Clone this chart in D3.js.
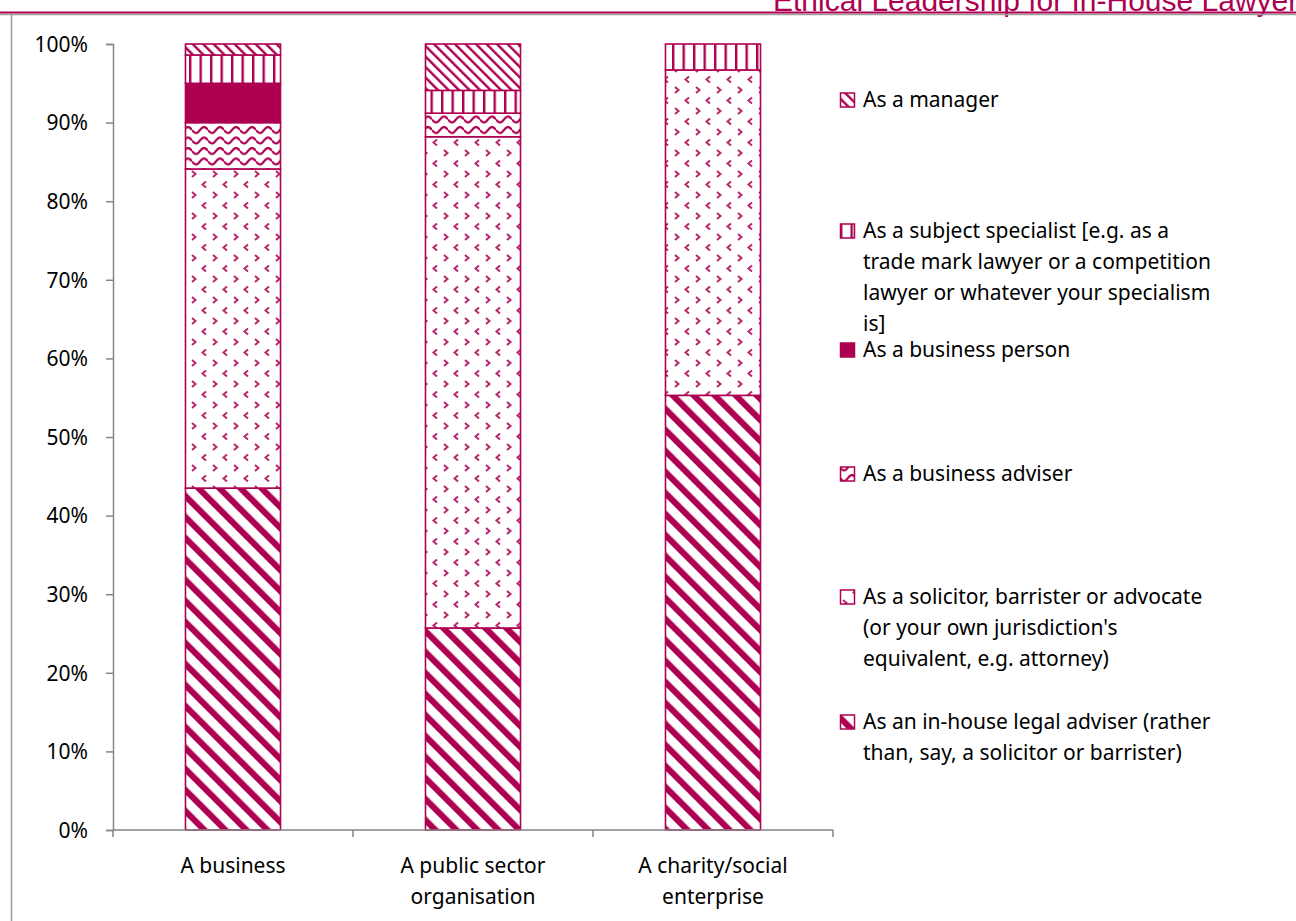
<!DOCTYPE html>
<html>
<head>
<meta charset="utf-8">
<script src="https://cdn.jsdelivr.net/npm/d3@7"></script>
<style>
  body { margin: 0; background: #fff; }
  svg { display: block; }
  text { font-family: "Noto Sans", sans-serif; fill: #000; }
</style>
</head>
<body>
<svg id="chart" width="1296" height="921"></svg>
<script>
// categories and series (percent of respondents)
var categories = ["A business", "A public sector organisation", "A charity/social enterprise"];
var categoryLines = [["A business"], ["A public sector", "organisation"], ["A charity/social", "enterprise"]];

var inHouse    = [43.5, 25.7, 55.3];
var solicitor  = [40.6, 62.5, 41.4];
var adviser    = [5.9, 3.0, 0];
var person     = [5.0, 0, 0];
var specialist = [3.6, 2.9, 3.3];
var manager    = [1.4, 5.9, 0];

var seriesKeys = ["inHouse", "solicitor", "adviser", "person", "specialist", "manager"];
var seriesLabels = {
  inHouse: ["As an in-house legal adviser (rather", "than, say, a solicitor or barrister)"],
  solicitor: ["As a solicitor, barrister or advocate", "(or your own jurisdiction's", "equivalent, e.g. attorney)"],
  adviser: ["As a business adviser"],
  person: ["As a business person"],
  specialist: ["As a subject specialist [e.g. as a", "trade mark lawyer or a competition", "lawyer or whatever your specialism", "is]"],
  manager: ["As a manager"]
};
var yTicks = [0, 10, 20, 30, 40, 50, 60, 70, 80, 90, 100];

var crimson = "#ae0050";

var rows = categories.map(function (c, i) {
  return { cat: c, inHouse: inHouse[i], solicitor: solicitor[i], adviser: adviser[i],
           person: person[i], specialist: specialist[i], manager: manager[i] };
});

var svg = d3.select("#chart");
var defs = svg.append("defs");

// patterns, all aligned to page
function pat(id, w, h, rot) {
  var p = defs.append("pattern")
    .attr("id", id)
    .attr("patternUnits", "userSpaceOnUse")
    .attr("width", w).attr("height", h);
  if (rot) p.attr("patternTransform", "rotate(" + rot + ")");
  p.append("rect").attr("width", w).attr("height", h).attr("fill", "#fff");
  return p;
}

// wide downward diagonal
pat("p-inHouse", 14.85, 14.85, -45)
  .append("rect").attr("x", 0).attr("width", 6.2).attr("height", 14.85).attr("fill", crimson);

// divot
var dv = pat("p-solicitor", 21, 21);
dv.append("path").attr("d", "M3,3 L6.5,6 L3,9").attr("fill", "none")
  .attr("stroke", crimson).attr("stroke-width", 2).attr("opacity", 0.85);
dv.append("path").attr("d", "M17,13.5 L13.5,16.5 L17,19.5").attr("fill", "none")
  .attr("stroke", crimson).attr("stroke-width", 2).attr("opacity", 0.85);

// wave
pat("p-adviser", 16, 10.5)
  .append("path").attr("d", "M0,4 Q4,10 8,4 T16,4").attr("fill", "none")
  .attr("stroke", crimson).attr("stroke-width", 2.2);

// solid
pat("p-person", 4, 4).select("rect").attr("fill", crimson);

// vertical lines
pat("p-specialist", 10.5, 10)
  .append("rect").attr("x", 0).attr("width", 2.4).attr("height", 10).attr("fill", crimson);

// light downward diagonal
pat("p-manager", 7.42, 7.42, -45)
  .append("rect").attr("x", 0).attr("width", 2.4).attr("height", 7.42).attr("fill", crimson);

// header
svg.append("text")
  .attr("x", 773).attr("y", 11)
  .style("font-family", "'Liberation Sans', Arial, sans-serif")
  .style("font-size", "30px")
  .style("fill", crimson)
  .text("Ethical Leadership for In-House Lawyers");
svg.append("line").attr("x1", 0).attr("x2", 1296).attr("y1", 14.5).attr("y2", 14.5)
  .attr("stroke", "#a0a0a0").attr("stroke-width", 1.5);
svg.append("line").attr("x1", 0).attr("x2", 1296).attr("y1", 12.5).attr("y2", 12.5)
  .attr("stroke", crimson).attr("stroke-width", 2);
svg.append("line").attr("x1", 11.5).attr("x2", 11.5).attr("y1", 13.5).attr("y2", 921)
  .attr("stroke", "#9a9a9a").attr("stroke-width", 1.5);

// scales
var x = d3.scaleBand().domain(categories).range([113, 833]).padding(0);
var y = d3.scaleLinear().domain([0, 100]).range([830, 44]);
var barW = x.bandwidth() * 0.396;

var stacked = d3.stack().keys(seriesKeys)(rows);

svg.append("g").selectAll("g")
  .data(stacked)
  .enter()
  .append("g")
  .attr("fill", function (d) { return "url(#p-" + d.key + ")"; })
  .selectAll("rect")
  .data(function (d) { return d.filter(function (s) { return s[1] - s[0] > 0; }); })
  .enter()
  .append("rect")
  .attr("x", function (d) { return x(d.data.cat) + (x.bandwidth() - barW) / 2; })
  .attr("y", function (d) { return y(d[1]); })
  .attr("width", barW)
  .attr("height", function (d) { return y(d[0]) - y(d[1]); })
  .attr("stroke", crimson)
  .attr("stroke-width", 1.6);

// y axis
var yAxis = svg.append("g")
  .attr("transform", "translate(113,0)")
  .call(d3.axisLeft(y).tickValues(yTicks).tickFormat(function (d) { return d + "%"; })
    .tickSize(7).tickPadding(18));
yAxis.select(".domain").attr("stroke", "#868686").attr("stroke-width", 1.5);
yAxis.selectAll(".tick line").attr("stroke", "#868686").attr("stroke-width", 1.5);
yAxis.selectAll(".tick text").style("font-size", "21px").attr("dy", "0.35em");

// x axis
var xg = svg.append("g");
xg.append("line").attr("x1", 113).attr("x2", 833).attr("y1", 830).attr("y2", 830)
  .attr("stroke", "#868686").attr("stroke-width", 1.5);
xg.selectAll(".xt")
  .data(categories.concat([null]))
  .enter()
  .append("line")
  .attr("x1", function (d, i) { return i < categories.length ? x(d) : x(categories[i - 1]) + x.bandwidth(); })
  .attr("x2", function (d, i) { return i < categories.length ? x(d) : x(categories[i - 1]) + x.bandwidth(); })
  .attr("y1", 830).attr("y2", 837)
  .attr("stroke", "#868686").attr("stroke-width", 1.5);
xg.selectAll(".xl")
  .data(categories)
  .enter()
  .append("text")
  .attr("text-anchor", "middle")
  .style("font-size", "21px")
  .each(function (d, i) {
    var t = d3.select(this);
    categoryLines[i].forEach(function (ln, k) {
      t.append("tspan").attr("x", x(d) + x.bandwidth() / 2).attr("y", 873 + k * 31).text(ln);
    });
  });

// legend (top-down: reverse of stack)
var legendY = { manager: 100, specialist: 231, person: 350, adviser: 474, solicitor: 597, inHouse: 722 };
var lg = svg.append("g").selectAll("g")
  .data(seriesKeys.slice().reverse())
  .enter()
  .append("g")
  .attr("transform", function (d) { return "translate(840," + legendY[d] + ")"; });
lg.append("rect")
  .attr("x", 0.5).attr("y", -7).attr("width", 14).attr("height", 14)
  .attr("fill", function (d) { return "url(#p-" + d + ")"; })
  .attr("stroke", crimson).attr("stroke-width", 1.5);
lg.append("text")
  .style("font-size", "21px")
  .each(function (d) {
    var t = d3.select(this);
    seriesLabels[d].forEach(function (ln, k) {
      t.append("tspan").attr("x", 23).attr("y", k * 31).attr("dy", "0.35em").text(ln);
    });
  });
</script>
</body>
</html>
